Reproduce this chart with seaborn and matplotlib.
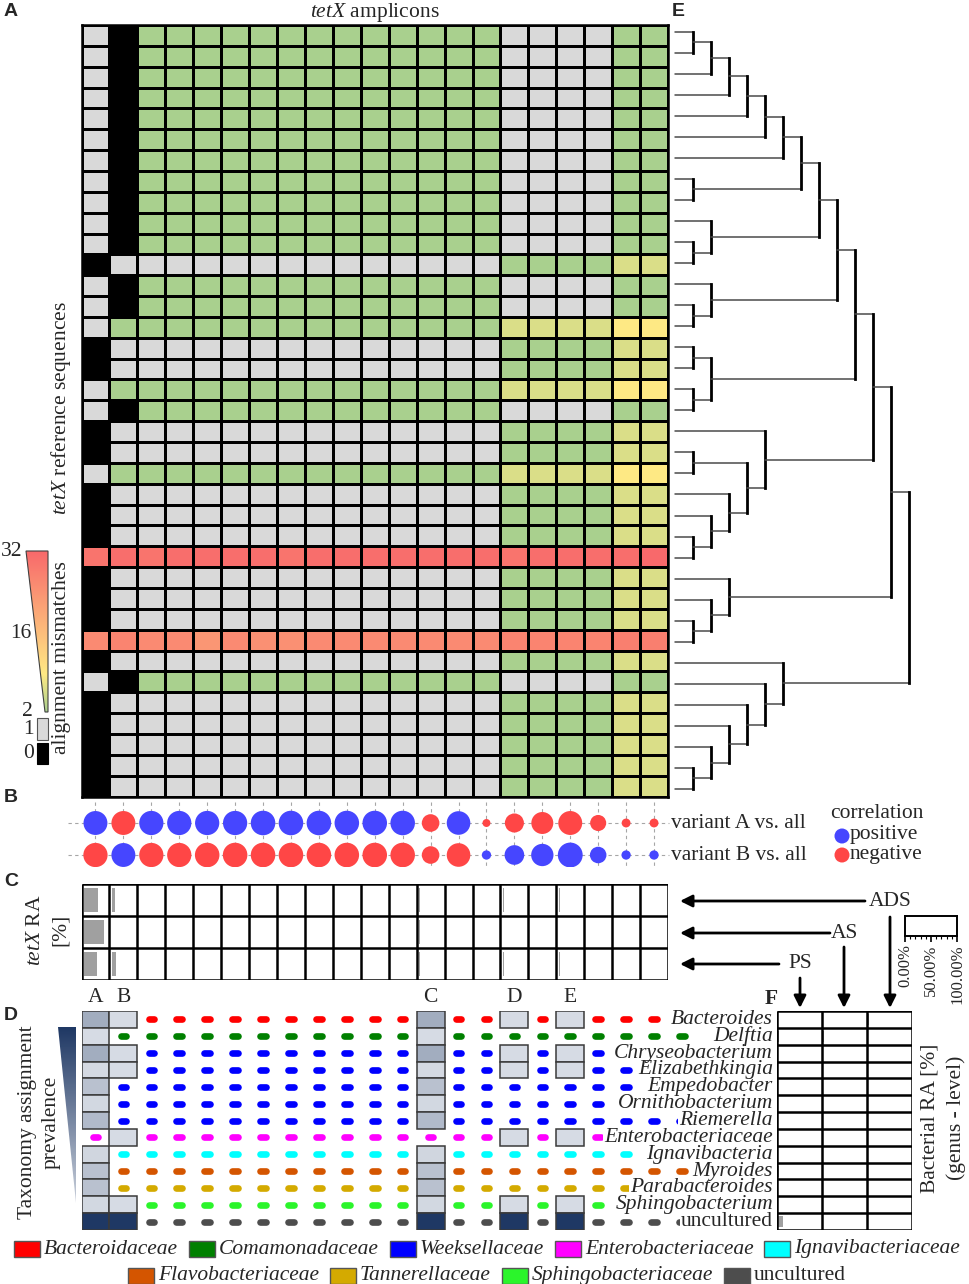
import numpy as np
import pandas as pd
import matplotlib
matplotlib.use("Agg")
import matplotlib.pyplot as plt
import seaborn as sns
from matplotlib.colors import LinearSegmentedColormap, ListedColormap, Normalize
from matplotlib.patches import Rectangle, Polygon, Circle

# ====================== DATA ======================
amplicon_count = 21
# mismatch patterns (one value per amplicon column)
pattern_1 = [1, 0] + [2] * 13 + [1] * 4 + [2] * 2
pattern_2 = [0, 1] + [1] * 13 + [2] * 4 + [6] * 2
pattern_3 = [1, 2] + [2] * 13 + [6] * 4 + [9] * 2
pattern_4 = [30, 31, 30, 31, 31, 31, 31, 30, 31, 31, 31, 31, 31, 31, 31, 30, 31, 31, 31, 31, 32]
pattern_5 = [26, 27, 26, 26, 24, 26, 25, 25, 26, 26, 26, 26, 26, 26, 26, 27, 27, 27, 27, 28, 28]
reference_rows = ([1] * 11 + [2] + [1] * 2 + [3] + [2] * 2 + [3] + [1] + [2] * 2 + [3]
                  + [2] * 3 + [4] + [2] * 3 + [5] + [2] + [1] + [2] * 5)

mismatch_levels = [2, 9, 32]
mismatch_colors = ["#a9d08e", "#ffe984", "#f8696b"]

# correlation of amplicons with variant A / variant B
corr_variant_A = [0.80, -0.80, 0.82, 0.82, 0.82, 0.82, 0.84, 0.84, 0.84, 0.84, 0.84, 0.84,
                  -0.45, 0.78, -0.12, -0.52, -0.68, -0.80, -0.38, -0.14, -0.14]
corr_variant_B = [-0.82, 0.80, -0.82, -0.82, -0.84, -0.84, -0.84, -0.84, -0.84, -0.84, -0.84, -0.84,
                  -0.45, -0.78, 0.15, 0.55, 0.70, 0.86, 0.40, 0.15, 0.15]

# tetX relative abundance [%] per site
sites = ["ADS", "AS", "PS"]
tetx_RA_ADS = [52, 11, 0, 0, 0, 0, 0, 0, 0, 0, 0, 0, 5, 0, 0, 4, 0, 4, 0, 0, 0]
tetx_RA_AS = [74, 0, 0, 0, 0, 0, 0, 0, 0, 0, 0, 0, 5, 0, 0, 0, 0, 0, 0, 0, 0]
tetx_RA_PS = [47, 16, 0, 0, 0, 0, 0, 0, 0, 0, 0, 0, 5, 0, 0, 5, 0, 5, 0, 0, 0]

# taxonomy
taxa = ["Bacteroides", "Delftia", "Chryseobacterium", "Elizabethkingia", "Empedobacter",
        "Ornithobacterium", "Riemerella", "Enterobacteriaceae", "Ignavibacteria", "Myroides",
        "Parabacteroides", "Sphingobacterium", "uncultured"]
taxa_family = ["Bacteroidaceae", "Comamonadaceae", "Weeksellaceae", "Weeksellaceae", "Weeksellaceae",
               "Weeksellaceae", "Weeksellaceae", "Enterobacteriaceae", "Ignavibacteriaceae",
               "Flavobacteriaceae", "Tannerellaceae", "Sphingobacteriaceae", "uncultured"]
families = ["Bacteroidaceae", "Comamonadaceae", "Weeksellaceae", "Enterobacteriaceae",
            "Ignavibacteriaceae", "Flavobacteriaceae", "Tannerellaceae", "Sphingobacteriaceae",
            "uncultured"]
family_colors = ["#ff0000", "#008000", "#0000ff", "#ff00ff", "#00ffff",
                 "#d45500", "#d4aa00", "#2bf52b", "#4d4d4d"]
nan = np.nan
variant_names = ["A", "B", "C", "D", "E"]
variant_columns = [1, 2, 13, 16, 18]
prevalence_A = [0.32, 0.05, 0.32, 0.06, 0.20, 0.07, 0.24, nan, 0.08, 0.20, 0.20, 0.07, 1.0]
prevalence_B = [0.05, nan, 0.05, 0.05, nan, nan, nan, 0.05, nan, nan, nan, 0.05, 1.0]
prevalence_C = [0.32, 0.05, 0.32, 0.06, 0.20, 0.07, 0.24, nan, 0.08, 0.20, 0.20, 0.07, 1.0]
prevalence_D = [0.05, nan, 0.05, 0.05, nan, nan, nan, 0.05, nan, nan, nan, 0.05, 1.0]
prevalence_E = [0.05, nan, 0.05, 0.05, nan, nan, nan, 0.05, nan, nan, nan, 0.05, 1.0]
taxonomy_columns = 22

# bacterial RA [%] (genus level) per site
bact_RA_PS = [0, 1, 0, 0, 0, 0, 0, 0, 0, 1, 0, 0, 11]
bact_RA_AS = [0, 2, 0, 0, 0, 0, 0, 0, 0, 0, 0, 0, 0]
bact_RA_ADS = [2, 0, 0, 0, 0, 0, 0, 0, 0, 0, 0, 0, 0]
scale_ticks = [0, 50, 100]
scale_labels = ["0.00%", "50.00%", "100.00%"]

# dendrogram merges (child a, child b, height); leaves 0..36, new nodes from 37
dendro_merges = [
    (0, 1, 1), (37, 2, 2), (38, 3, 3), (39, 4, 4), (40, 5, 5), (41, 6, 6),
    (7, 8, 1), (42, 43, 7), (10, 11, 1), (9, 45, 2), (44, 46, 8),
    (13, 14, 1), (12, 48, 2), (47, 49, 9), (15, 16, 1), (17, 18, 1), (51, 52, 2), (50, 53, 10),
    (20, 21, 1), (24, 25, 1), (23, 56, 2), (22, 57, 3), (55, 58, 4), (19, 59, 5), (54, 60, 11),
    (28, 29, 1), (27, 62, 2), (26, 63, 3), (61, 64, 12),
    (35, 36, 1), (34, 66, 2), (33, 67, 3), (32, 68, 4), (31, 69, 5), (30, 70, 6), (65, 71, 13),
]

# ====================== STYLE ======================
sns.set_theme(style="white")
plt.rcParams["font.family"] = ["Liberation Serif", "DejaVu Serif"]
plt.rcParams["mathtext.fontset"] = "custom"
plt.rcParams["mathtext.rm"] = "Liberation Serif"
plt.rcParams["mathtext.it"] = "Liberation Serif:italic"
FS = 15.5
SANS = ["Liberation Sans", "DejaVu Sans"]

W, H = 969, 1284
fig = plt.figure(figsize=(W / 100, H / 100), dpi=100)


def ax_px(x0, y0, x1, y1, **kw):
    return fig.add_axes([x0 / W, 1 - y1 / H, (x1 - x0) / W, (y1 - y0) / H], **kw)


HX0, HX1 = 81.5, 668.0
mm_cmap = LinearSegmentedColormap.from_list(
    "mm", [((v - 2) / 30, c) for v, c in zip(mismatch_levels, mismatch_colors)])
mm_norm = Normalize(2, 32)

# ====================== A: heatmap ======================
patterns = {1: pattern_1, 2: pattern_2, 3: pattern_3, 4: pattern_4, 5: pattern_5}
mm = pd.DataFrame([patterns[p] for p in reference_rows],
                  columns=[f"amp{i + 1}" for i in range(amplicon_count)])
axA = ax_px(HX0, 25, HX1, 796.5)
sns.heatmap(mm, ax=axA, cmap=mm_cmap, vmin=2, vmax=32, mask=mm < 2, cbar=False,
            linewidths=1.9, linecolor="black", xticklabels=False, yticklabels=False)
sns.heatmap(mm, ax=axA, cmap=ListedColormap(["black", "#d9d9d9"]), vmin=-0.5, vmax=1.5,
            mask=mm >= 2, cbar=False, linewidths=1.9, linecolor="black",
            xticklabels=False, yticklabels=False)
for s in axA.spines.values():
    s.set_visible(True)
    s.set_color("black")
    s.set_linewidth(1.8)

# ====================== E: dendrogram ======================
axE = ax_px(665, 21.2, 950, 799.5)
axE.set_xlim((665 - 675) / 18, (950 - 675) / 18)
axE.set_ylim(36.5, -0.5)
axE.axis("off")
pos_y = {i: float(i) for i in range(len(reference_rows))}
pos_x = {i: 0.0 for i in range(len(reference_rows))}
nid = len(reference_rows)
for a, b, h in dendro_merges:
    axE.plot([pos_x[a], h], [pos_y[a], pos_y[a]], color="#4a4a4a", lw=1.1)
    axE.plot([pos_x[b], h], [pos_y[b], pos_y[b]], color="#4a4a4a", lw=1.1)
    axE.plot([h, h], [pos_y[a], pos_y[b]], color="black", lw=2.0, solid_capstyle="projecting")
    pos_y[nid] = (pos_y[a] + pos_y[b]) / 2
    pos_x[nid] = h
    nid += 1

# ====================== B: correlation bubbles ======================
axB = ax_px(HX0, 802, HX1, 867)
corr_df = pd.DataFrame({
    "amplicon": list(range(amplicon_count)) * 2,
    "variant": [0] * amplicon_count + [1] * amplicon_count,
    "r": corr_variant_A + corr_variant_B,
})
corr_df["magnitude"] = corr_df["r"].abs()
corr_df["sign"] = np.where(corr_df["r"] > 0, "positive", "negative")
axB.vlines(range(amplicon_count), -0.656, 1.375, colors="#a6a6a6", lw=0.8, linestyles=(0, (3, 3)))
axB.hlines([0, 1], -1.0, amplicon_count - 0.45, colors="#a6a6a6", lw=0.8,
           linestyles=(0, (3, 3)), clip_on=False)
sns.scatterplot(data=corr_df, x="amplicon", y="variant", hue="sign", size="magnitude",
                sizes=(33, 320), size_norm=(0.12, 0.86),
                palette={"positive": "#4646ff", "negative": "#ff4646"},
                edgecolor="none", legend=False, ax=axB, zorder=3)
axB.set_xlim(-0.5, amplicon_count - 0.5)
axB.set_ylim(1.375, -0.656)
axB.axis("off")

# ====================== C: tetX RA ======================
axC = ax_px(HX0, 884, HX1, 980)
for r, vals in enumerate([tetx_RA_ADS, tetx_RA_AS, tetx_RA_PS]):
    axC.barh([r + 0.5] * amplicon_count, [v / 100 for v in vals],
             left=[c + 0.08 for c in range(amplicon_count)], height=0.78,
             color="#a0a0a0", linewidth=0)
axC.vlines(range(amplicon_count + 1), 0, 3, colors="black", lw=1.8)
axC.hlines(range(4), 0, amplicon_count, colors="black", lw=1.8)
axC.set_xlim(0, amplicon_count)
axC.set_ylim(3, 0)
axC.axis("off")

# ====================== D: taxonomy ======================
axD = ax_px(HX0, 1011, HX1, 1230)
axD.set_xlim(-0.5, amplicon_count - 0.5)
axD.set_ylim(len(taxa) - 0.5, -0.5)
axD.axis("off")
prev_cmap = LinearSegmentedColormap.from_list("prev", ["#dfe3ea", "#1f3864"])
prevalences = [prevalence_A, prevalence_B, prevalence_C, prevalence_D, prevalence_E]
boxed = {}
for col, prev in zip(variant_columns, prevalences):
    for r, p in enumerate(prev):
        if not np.isnan(p):
            boxed[(r, col - 1)] = p
fam_color = dict(zip(families, family_colors))
for r, fam in enumerate(taxa_family):
    xs = [c for c in range(taxonomy_columns) if (r, c) not in boxed]
    lc = axD.hlines([r] * len(xs), [x - 0.1 for x in xs], [x + 0.1 for x in xs],
                    colors=fam_color[fam], lw=4.8, clip_on=False)
    lc.set_capstyle("round")
for (r, c), p in boxed.items():
    axD.add_patch(Rectangle((c - 0.5, r - 0.5), 1, 1, facecolor=prev_cmap(p),
                            edgecolor="#3a3a3a", lw=1.1, zorder=3))
for name, col in zip(variant_names, variant_columns):
    axD.text(col - 1, -1.3, name, ha="center", va="center", fontsize=FS, clip_on=False)

# ====================== F: bacterial RA ======================
axF = ax_px(777, 1011, 912, 1230)
for c, vals in enumerate([bact_RA_PS, bact_RA_AS, bact_RA_ADS]):
    axF.barh([r + 0.5 for r in range(len(taxa))], [v / 100 for v in vals],
             left=c + 0.03, height=0.65, color="#a0a0a0", linewidth=0)
axF.vlines(range(4), 0, len(taxa), colors="black", lw=1.8)
axF.hlines(range(len(taxa) + 1), 0, 3, colors="black", lw=1.8)
axF.set_xlim(0, 3)
axF.set_ylim(len(taxa), 0)
axF.axis("off")

# scale bar for RA
axS = ax_px(905, 916, 957, 936)
axS.set_xlim(0, 100)
axS.set_yticks([])
axS.set_xticks(scale_ticks)
axS.set_xticklabels(scale_labels, rotation=90, fontsize=12)
axS.set_xticks(range(10, 100, 10), minor=True)
axS.tick_params(axis="x", which="both", bottom=True, direction="out", color="black", pad=2)
axS.tick_params(axis="x", which="major", length=4, width=1.2)
axS.tick_params(axis="x", which="minor", length=2.5, width=0.8)
axS.set_facecolor("white")
for s in axS.spines.values():
    s.set_color("black")
    s.set_linewidth(1.4)

# ====================== annotation canvas ======================
cv = fig.add_axes([0, 0, 1, 1], zorder=5)
cv.set_xlim(0, W)
cv.set_ylim(H, 0)
cv.axis("off")
cv.patch.set_alpha(0)

for lab, (x, y) in zip("ABCDE", [(4, 11), (4, 798), (4, 882), (4, 1015), (672, 11)]):
    cv.text(x, y, lab, fontsize=14, fontweight="bold", family=SANS, ha="left", va="center")
cv.text(771, 999, "F", fontsize=FS, fontweight="bold", ha="center", va="center")

cv.text((HX0 + HX1) / 2, 12, r"$\mathit{tetX}$ amplicons", fontsize=FS, ha="center", va="center")
cv.text(61, 408, r"$\mathit{tetX}$ reference sequences", fontsize=FS, rotation=90,
        ha="center", va="center")
cv.text(62, 658, "alignment mismatches", fontsize=FS, rotation=90, ha="center", va="center")

# gradient triangle colour bar
grad = np.linspace(32, 2, 256)[:, None]
im = cv.imshow(grad, cmap=mm_cmap, norm=mm_norm, extent=(26, 48, 712, 551), aspect="auto",
               zorder=2)
tri = Polygon([(26, 551), (48, 551), (48, 712), (45, 712)], closed=True, facecolor="none",
              edgecolor="#404040", lw=0.8, zorder=3)
cv.add_patch(tri)
im.set_clip_path(tri)
cv.add_patch(Rectangle((37, 718), 11, 22, facecolor="#d9d9d9", edgecolor="#555555", lw=0.8))
cv.add_patch(Rectangle((37, 743), 11, 21, facecolor="black", edgecolor="black", lw=0.8))
for lab, (x, y) in zip(["32", "16", "2", "1", "0"],
                       [(22, 551), (31, 634), (33, 712), (34, 729), (34, 754)]):
    cv.text(x, y, lab, fontsize=FS, ha="right", va="center")

# correlation labels / legend
cv.text(671, 823, "variant A vs. all", fontsize=FS, ha="left", va="center")
cv.text(671, 855, "variant B vs. all", fontsize=FS, ha="left", va="center")
cv.text(830, 814, "correlation", fontsize=FS, ha="left", va="center")
cv.add_patch(Circle((842, 836), 7.5, facecolor="#4646ff", edgecolor="none"))
cv.add_patch(Circle((842, 855), 7.5, facecolor="#ff4646", edgecolor="none"))
cv.text(850, 835, "positive", fontsize=FS, ha="left", va="center")
cv.text(850, 854, "negative", fontsize=FS, ha="left", va="center")

# tetX RA label
cv.text(36, 930, r"$\mathit{tetX}$ RA", fontsize=FS, rotation=90, ha="center", va="center")
cv.text(60, 930, "[%]", fontsize=FS, rotation=90, ha="center", va="center")

# sites and arrows
arrow_kw = dict(arrowstyle="-|>", lw=2.0, color="black", mutation_scale=18,
                shrinkA=0, shrinkB=0)
site_text = [(890, 901), (844, 933), (800, 964)]
site_line_start = [865, 830, 779]
site_down_start = [917, 947, 978]
for name, (tx, ty), xs, ys in zip(sites, site_text, site_line_start, site_down_start):
    cv.text(tx, ty, name, fontsize=FS, ha="center", va="center")
    cv.annotate("", xy=(680, ty), xytext=(xs, ty), arrowprops=arrow_kw)
    cv.annotate("", xy=(tx, 1008), xytext=(tx, ys), arrowprops=arrow_kw)

# taxonomy prevalence
cv.text(28, 1122, "Taxonomy assignment", fontsize=FS, rotation=90, ha="center", va="center")
cv.text(51, 1122, "prevalence", fontsize=FS, rotation=90, ha="center", va="center")
pgrad = np.linspace(1.0, 0.12, 256)[:, None]
im2 = cv.imshow(pgrad, cmap=prev_cmap, vmin=0, vmax=1, extent=(58, 76, 1203, 1027),
                aspect="auto", zorder=2)
tri2 = Polygon([(58, 1027), (76, 1027), (76, 1203)], closed=True, facecolor="none",
               edgecolor="none")
cv.add_patch(tri2)
im2.set_clip_path(tri2)

cv.text(930, 1118, "Bacterial RA [%]", fontsize=FS, rotation=90, ha="center", va="center")
cv.text(956, 1118, "(genus - level)", fontsize=FS, rotation=90, ha="center", va="center")

cv.set_xlim(0, W)
cv.set_ylim(H, 0)
renderer = fig.canvas.get_renderer()

# taxon labels; a white strip behind each hides the dots under the text
row_h = (1230 - 1011) / len(taxa)
for r, name in enumerate(taxa):
    y = 1011 + row_h * (r + 0.5)
    style = "normal" if name == "uncultured" else "italic"
    t = cv.text(773, y, name, fontsize=FS, fontstyle=style, ha="right", va="center", zorder=4)
    bb = t.get_window_extent(renderer)
    cv.add_patch(Rectangle((bb.x0 - 1, y - 6), bb.width + 1, 12, facecolor="white",
                           edgecolor="none", zorder=3))

# family legend (two centred rows)
legend_rows = [families[:5], families[5:]]
legend_y = [1249, 1275.5]
for fams, yc in zip(legend_rows, legend_y):
    texts, widths = [], []
    for f in fams:
        t = cv.text(0, yc, f, fontsize=FS, fontstyle="normal" if f == "uncultured" else "italic",
                    ha="left", va="center")
        texts.append(t)
        widths.append(t.get_window_extent(renderer).width)
    sq_w, sq_gap, item_gap = 26, 4, 11
    total = sum(sq_w + sq_gap + w for w in widths) + item_gap * (len(fams) - 1)
    x = 487 - total / 2
    for f, t, w in zip(fams, texts, widths):
        cv.add_patch(Rectangle((x, yc - 8), sq_w, 16, facecolor=fam_color[f],
                               edgecolor="#555555", lw=1.0))
        t.set_x(x + sq_w + sq_gap)
        x += sq_w + sq_gap + w + item_gap

fig.savefig("out.png", dpi=100)
